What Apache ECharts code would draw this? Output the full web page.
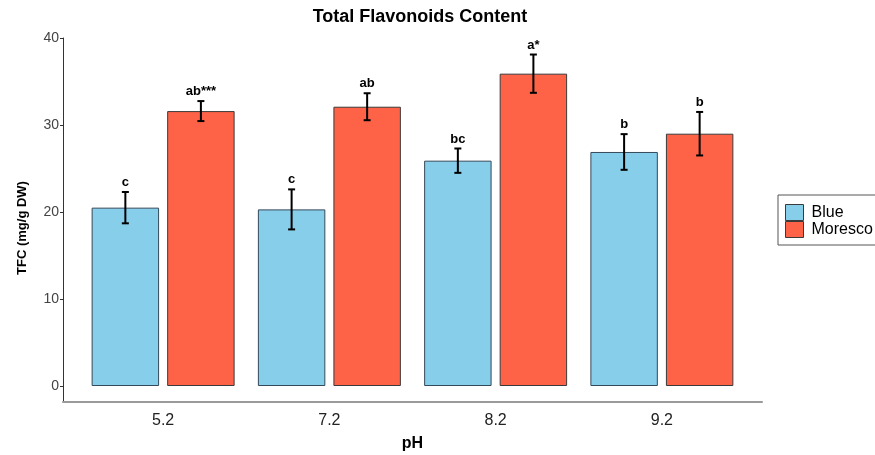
<!DOCTYPE html>
<html>
<head>
<meta charset="utf-8">
<script src="https://cdn.jsdelivr.net/npm/echarts@6/dist/echarts.min.js"></script>
<style>
  html, body { margin: 0; padding: 0; background: #fff; }
  #chart { width: 875px; height: 455px; }
</style>
</head>
<body>
<div id="chart"></div>
<script>
// pH levels on the x axis
const categories = ['5.2', '7.2', '8.2', '9.2'];
// Total flavonoid content (mg/g DW) per cultivar, with error half-widths
const blueValues = [20.5, 20.3, 25.9, 26.9];
const blueErrors = [1.8, 2.3, 1.4, 2.05];
const morescoValues = [31.6, 32.1, 35.9, 29.0];
const morescoErrors = [1.15, 1.55, 2.2, 2.5];
// Significance letters over each bar
const blueLetters = ['c', 'c', 'bc', 'b'];
const morescoLetters = ['ab***', 'ab', 'a*', 'b'];
const yTicks = [0, 10, 20, 30, 40];

const CAT_GAP = 0.14;   // fraction of band left empty
const BAR_GAP = 0.12;   // gap between the two bars, relative to bar width
const FONT = '"Liberation Sans", Arial, sans-serif';

function errorBars(values, errors, letters, side) {
  return {
    type: 'custom',
    xAxisIndex: 0, yAxisIndex: 0,
    z: 5,
    data: values.map((v, i) => [i, v, errors[i]]),
    renderItem: function (params, api) {
      const idx = api.value(0);
      const v = api.value(1);
      const e = api.value(2);
      const band = api.size([1, 0])[0];
      const group = band * (1 - CAT_GAP);
      const w = group / (2 + BAR_GAP);
      const off = side * w * (1 + BAR_GAP) / 2;
      const top = api.coord([idx, v + e]);
      const bot = api.coord([idx, v - e]);
      const x = top[0] + off;
      const cap = 3.5;
      const st = { stroke: '#000', lineWidth: 2 };
      return {
        type: 'group',
        children: [
          { type: 'line', shape: { x1: x, y1: top[1], x2: x, y2: bot[1] }, style: st },
          { type: 'line', shape: { x1: x - cap, y1: top[1], x2: x + cap, y2: top[1] }, style: st },
          { type: 'line', shape: { x1: x - cap, y1: bot[1], x2: x + cap, y2: bot[1] }, style: st },
          { type: 'text', style: {
              x: x, y: top[1] - 3, text: letters[idx],
              align: 'center', verticalAlign: 'bottom',
              font: 'bold 13px ' + FONT, fill: '#000' } }
        ]
      };
    }
  };
}

const chart = echarts.init(document.getElementById('chart'));
chart.setOption({
  animation: false,
  backgroundColor: '#fff',
  title: {
    text: 'Total Flavonoids Content',
    left: 415, top: 3, textAlign: 'center',
    textStyle: { fontFamily: FONT, fontWeight: 'bold', fontSize: 18, color: '#000' }
  },
  legend: {
    orient: 'vertical',
    left: 778, top: 195,
    icon: 'rect',
    itemWidth: 18, itemHeight: 16, itemGap: 0,
    padding: [9, 6, 7, 7],
    borderColor: '#555', borderWidth: 1,
    itemStyle: { borderColor: '#3a3a3a', borderWidth: 1 },
    data: ['Blue', 'Moresco'],
    textStyle: { fontFamily: FONT, fontSize: 16, lineHeight: 16, color: '#000', padding: [0, 0, 0, 3] }
  },
  grid: [
    { left: 80, right: 130, top: 38, bottom: 69, outerBoundsMode: 'none' },
    { left: 63, right: 113, top: 38, bottom: 53, outerBoundsMode: 'none' }
  ],
  xAxis: [
    {
      type: 'category', gridIndex: 0, data: categories,
      axisLine: { show: false }, axisTick: { show: false },
      axisLabel: { margin: 27, fontFamily: FONT, fontSize: 16, color: '#222' },
      name: 'pH', nameLocation: 'middle', nameGap: 50,
      nameTextStyle: { fontFamily: FONT, fontWeight: 'bold', fontSize: 16, color: '#000' }
    },
    {
      type: 'value', gridIndex: 1, min: 0, max: 1,
      axisLine: { show: true, lineStyle: { color: '#9a9a9a', width: 2 } },
      axisTick: { show: false }, axisLabel: { show: false }, splitLine: { show: false }
    }
  ],
  yAxis: [
    {
      type: 'value', gridIndex: 0, min: yTicks[0], max: yTicks[yTicks.length - 1], interval: 10,
      offset: 17,
      axisLine: { show: false },
      axisTick: { show: true, length: 3, lineStyle: { color: '#333' } },
      axisLabel: { margin: 4, fontFamily: FONT, fontSize: 14, color: '#444' },
      splitLine: { show: false }
    },
    {
      type: 'value', gridIndex: 1, min: 0, max: 1,
      axisLine: { show: true, lineStyle: { color: '#333', width: 1 } },
      axisTick: { show: false }, axisLabel: { show: false }, splitLine: { show: false },
      name: 'TFC (mg/g DW)', nameLocation: 'middle', nameGap: 34, nameRotate: 90,
      nameTextStyle: { fontFamily: FONT, fontWeight: 'bold', fontSize: 13, color: '#000', padding: [0, 16, 0, 0] }
    }
  ],
  series: [
    {
      name: 'Blue', type: 'bar', xAxisIndex: 0, yAxisIndex: 0,
      data: blueValues,
      barCategoryGap: (CAT_GAP * 100) + '%', barGap: (BAR_GAP * 100) + '%',
      itemStyle: { color: '#87CEEB', borderColor: '#34495a', borderWidth: 1 }
    },
    {
      name: 'Moresco', type: 'bar', xAxisIndex: 0, yAxisIndex: 0,
      data: morescoValues,
      barCategoryGap: (CAT_GAP * 100) + '%', barGap: (BAR_GAP * 100) + '%',
      itemStyle: { color: '#FF6347', borderColor: '#3a3a3a', borderWidth: 1 }
    },
    errorBars(blueValues, blueErrors, blueLetters, -1),
    errorBars(morescoValues, morescoErrors, morescoLetters, 1)
  ]
});
</script>
</body>
</html>
